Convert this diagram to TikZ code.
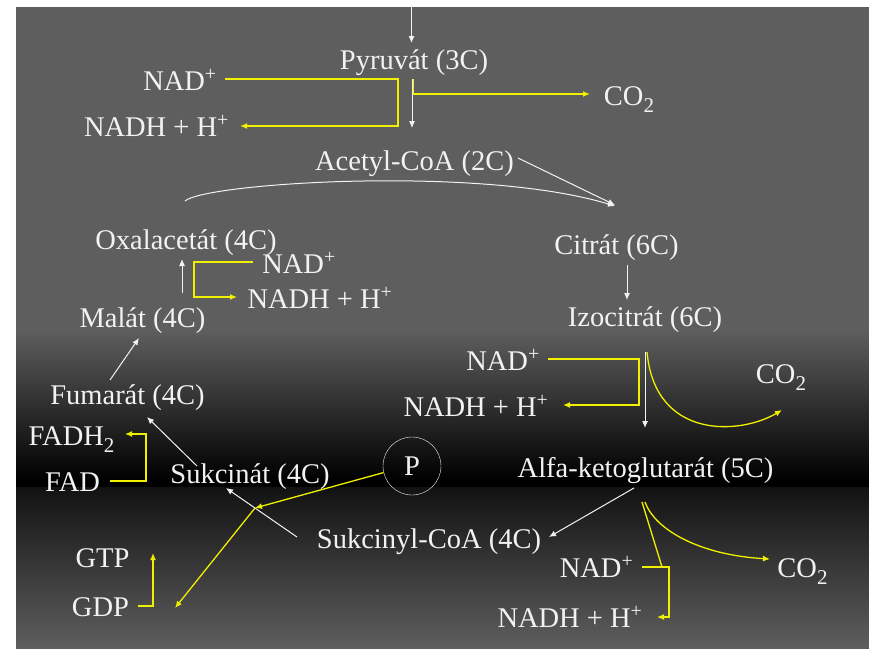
\documentclass[tikz,border=0pt]{standalone}
\usepackage{fontspec}
\setmainfont{Liberation Serif}
\usepackage{tikz}
\usetikzlibrary{arrows.meta,positioning,calc}
\definecolor{slidegray}{HTML}{5E5E5E}
\definecolor{slidedark}{HTML}{121212}
\definecolor{txtwhite}{HTML}{F2F2F2}
\definecolor{lineyellow}{HTML}{F0F000}
\newcommand{\lowsub}[1]{\raisebox{-7pt}{\fontsize{21}{21}\selectfont #1}}
\tikzstyle{metab} = [text=txtwhite, inner sep=1pt, anchor=base,
    font=\fontsize{28.5}{30}\selectfont]
\tikzstyle{flow} = [draw=txtwhite, line width=1pt, -{Latex[length=7pt,width=6pt]}]
\tikzstyle{side} = [draw=lineyellow, line width=1.3pt, -{Latex[length=7pt,width=6pt]}]
\tikzstyle{sideline} = [draw=lineyellow, line width=1.3pt]
\tikzstyle{phos} = [draw=txtwhite, circle, minimum size=58pt, inner sep=0pt,
    text=txtwhite, font=\fontsize{28.5}{30}\selectfont]

\begin{document}
\begin{tikzpicture}[x=1pt,y=-1pt]
\useasboundingbox (0,0) rectangle (869,648);
% slide background
\fill[white] (0,0) rectangle (869,648);
\fill[slidegray] (16,7) rectangle (869,330.5);
\shade[top color=slidegray, bottom color=black] (16,330) rectangle (869,480.5);
\fill[black] (16,480) rectangle (869,487.5);
\shade[top color=slidedark, bottom color=slidegray] (16,487) rectangle (869,648);

\node[metab] (pyr) at (414,69.5) {Pyruvát (3C)};
\node[metab] (nadA) at (180,90) {NAD\textsuperscript{+}};
\node[metab] (nadhA) at (156.5,136) {NADH + H\textsuperscript{+}};
\node[metab] (coA) at (629,105) {CO\lowsub{2}};
\node[metab] (acetyl) at (414.5,170) {Acetyl-CoA (2C)};
\node[metab] (oxal) at (186,249) {Oxalacetát (4C)};
\node[metab] (citrat) at (616.5,254) {Citrát (6C)};
\node[metab] (izocitrat) at (645,326) {Izocitrát (6C)};
\node[metab] (nadB) at (299,273) {NAD\textsuperscript{+}};
\node[metab] (nadhB) at (320,308) {NADH + H\textsuperscript{+}};
\node[metab] (malat) at (142.5,327) {Malát (4C)};
\node[metab] (nadC) at (503,370) {NAD\textsuperscript{+}};
\node[metab] (nadhC) at (476,416) {NADH + H\textsuperscript{+}};
\node[metab] (coB) at (781,383) {CO\lowsub{2}};
\node[metab] (fumarat) at (127.5,404) {Fumarát (4C)};
\node[metab] (fadh) at (71.5,445) {FADH\lowsub{2}};
\node[metab] (fad) at (72.5,491) {FAD};
\node[metab] (sukcinat) at (250,483) {Sukcinát (4C)};
\node[phos] (p) at (412,466) {P};
\node[metab] (alfa) at (645.5,477) {Alfa-ketoglutarát (5C)};
\node[metab] (sukcoa) at (429,548) {Sukcinyl-CoA (4C)};
\node[metab] (gtp) at (102.5,567) {GTP};
\node[metab] (gdp) at (100.5,616) {GDP};
\node[metab] (nadD) at (596.5,577) {NAD\textsuperscript{+}};
\node[metab] (nadhD) at (570,627) {NADH + H\textsuperscript{+}};
\node[metab] (coC) at (802.5,577) {CO\lowsub{2}};

% end points of the connectors
\coordinate (in0) at (411.5,7);       \coordinate (in1) at (411.5,43);
\coordinate (pyr0) at (412,79);       \coordinate (pyr1) at (412,128);
\coordinate (acet0) at (518,158);     \coordinate (cit0) at (615,205);
\coordinate (oxal0) at (185,201);     \coordinate (cit1) at (615,206);
\coordinate (cit2) at (627,265);      \coordinate (izo0) at (627,300);
\coordinate (izo1) at (645,352);      \coordinate (alfa0) at (645,428);
\coordinate (alfa1) at (634,488);     \coordinate (suk0) at (549,537);
\coordinate (suk1) at (297,537);      \coordinate (sukc0) at (226,488);
\coordinate (sukc1) at (197,466);     \coordinate (fum0) at (147,417);
\coordinate (fum1) at (110,380);      \coordinate (mal0) at (139,338);
\coordinate (mal1) at (182,293);      \coordinate (oxal1) at (182,259);

\coordinate (nA0) at (225,79);        \coordinate (nA1) at (398,126);
\coordinate (nA2) at (240,126);
\coordinate (cA0) at (413.5,79);      \coordinate (cA1) at (590,94);
\coordinate (nB0) at (253,262);       \coordinate (nB1) at (194,297);
\coordinate (nB2) at (237,297);
\coordinate (nC0) at (548,359);       \coordinate (nC1) at (639,405);
\coordinate (nC2) at (563,405);
\coordinate (cB0) at (647,352);       \coordinate (cB1) at (782,410);
\coordinate (fd0) at (110,481);       \coordinate (fd1) at (146,434);
\coordinate (fd2) at (125,434);
\coordinate (pmid) at (255,508);      \coordinate (gdp0) at (175,608);
\coordinate (gd0) at (138,606);       \coordinate (gd1) at (153,553);
\coordinate (ak0) at (642,502);       \coordinate (ak1) at (662,567);
\coordinate (cC0) at (645,502);       \coordinate (cC1) at (770,559);
\coordinate (nD0) at (642,567);       \coordinate (nD1) at (669,617);
\coordinate (nD2) at (657,617);

% cycle
\draw[flow] (in0) -- (in1);
\draw[flow] (pyr0) -- (pyr1);
\draw[flow] (acet0) -- (cit0);
\draw[flow] (oxal0) .. controls (205,183) and (480,165) .. (cit1);
\draw[flow] (cit2) -- (izo0);
\draw[flow] (izo1) -- (alfa0);
\draw[flow] (alfa1) -- (suk0);
\draw[flow] (suk1) -- (sukc0);
\draw[flow] (sukc1) -- (fum0);
\draw[flow] (fum1) -- (mal0);
\draw[flow] (mal1) -- (oxal1);

% side reactions
\draw[side] (nA0) -| (nA1) -- (nA2);
\draw[side] (cA0) |- (cA1);
\draw[side] (nB0) -| (nB1) -- (nB2);
\draw[side] (nC0) -| (nC1) -- (nC2);
\draw[side] (cB0) .. controls (655,440) and (740,435) .. (cB1);
\draw[side] (fd0) -| (fd1) -- (fd2);
\draw[side] (p.193) -- (pmid);
\draw[side] (pmid) -- (gdp0);
\draw[side] (gd0) -| (gd1);
\draw[sideline] (ak0) -- (ak1);
\draw[side] (cC0) .. controls (655,530) and (700,555) .. (cC1);
\draw[side] (nD0) -| (nD1) -- (nD2);
\end{tikzpicture}
\end{document}
